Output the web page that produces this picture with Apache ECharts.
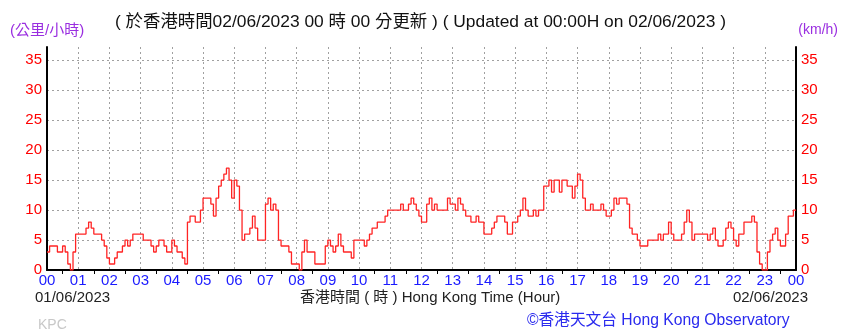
<!DOCTYPE html>
<html>
<head>
<meta charset="utf-8">
<script src="https://cdn.jsdelivr.net/npm/echarts@6/dist/echarts.min.js"></script>
<style>html,body{margin:0;padding:0;background:#fff}#c{width:850px;height:335px}</style>
</head>
<body>
<div id="c"></div>
<script>
// hour tick labels
var hourLabels = ['00','01','02','03','04','05','06','07','08','09','10','11','12','13','14','15','16','17','18','19','20','21','22','23','00'];
var yTicks = [0,5,10,15,20,25,30,35];
// 10-minute mean wind speed (km/h), one value every 5 minutes from 00:00 to 24:00
var windSpeed = [
  3,4,4,4,3,3,4,3,1,0,3,6,        // 00
  6,6,6,7,8,7,6,6,6,5,4,2,        // 01
  1,1,2,3,3,4,5,4,5,6,6,6,        // 02
  6,5,5,5,4,3,4,5,5,4,3,3,        // 03
  5,4,3,3,2,1,8,9,9,8,8,10,       // 04
  12,12,12,11,9,12,14,15,16,17,15,12, // 05
  15,14,10,5,6,6,7,9,7,5,5,5,     // 06
  11,12,10,11,10,5,4,4,4,3,1,1,   // 07
  1,0,3,5,3,3,3,1,1,1,1,4,        // 08
  5,4,3,4,6,4,3,3,3,2,5,5,        // 09
  5,5,4,5,6,7,7,8,8,8,9,10,       // 10
  10,10,10,10,11,10,10,11,12,11,10,9, // 11
  8,8,11,12,10,11,10,10,10,10,12,11,  // 12
  11,10,12,11,10,9,9,8,8,9,8,8,   // 13
  6,6,6,7,8,9,9,9,8,6,6,8,        // 14
  8,9,10,12,10,9,9,10,9,10,10,14, // 15
  14,15,13,15,15,13,15,15,14,14,12,14, // 16
  16,15,12,10,10,11,10,10,10,11,10,9,  // 17
  9,10,12,11,12,12,12,11,7,6,6,5, // 18
  4,4,4,5,5,5,5,6,5,6,6,8,        // 19
  6,5,5,5,6,8,10,8,5,6,6,6,       // 20
  6,6,5,6,7,5,4,4,5,7,8,7,        // 21
  5,4,6,6,8,8,8,9,8,3,1,0,        // 22
  0,3,5,6,7,5,4,4,6,9,9,10,       // 23
  10                              // 24
];
var stepsPerHour = 12;

var seriesData = windSpeed.map(function (v, i) { return [i / stepsPerHour, v]; });

var fontLatin = 'Liberation Sans, Noto Sans CJK TC, sans-serif';
var chart = echarts.init(document.getElementById('c'), null, {renderer: 'canvas'});

function yAxisDef(pos) {
  return {
    type: 'value', position: pos, min: 0, max: 37.2, interval: 5,
    axisLine: {show: true, lineStyle: {color: '#000', width: 2}},
    axisTick: {show: false},
    axisLabel: {
      color: '#ff0000', fontSize: 15, fontFamily: fontLatin, margin: 5,
      showMaxLabel: false,
      formatter: function (v) { return yTicks.indexOf(v) >= 0 ? String(v) : ''; }
    },
    splitLine: {show: pos === 'left', showMaxLine: false, lineStyle: {color: '#a0a0a0', type: [2, 3], width: 1}}
  };
}

chart.setOption({
  animation: false,
  backgroundColor: '#fff',
  grid: {left: 47, right: 54, top: 47, bottom: 65},
  xAxis: [{
    type: 'value', min: 0, max: 24, interval: 1,
    axisLine: {show: true, lineStyle: {color: '#000', width: 2}},
    axisTick: {show: false},
    minorTick: {show: true, splitNumber: 2, length: 4, lineStyle: {color: '#000'}},
    axisLabel: {
      color: '#1a1aff', fontSize: 15, fontFamily: fontLatin, margin: 3,
      formatter: function (v) { return hourLabels[Math.round(v)]; }
    },
    splitLine: {show: true, lineStyle: {color: '#a0a0a0', type: [2, 3], width: 1}}
  }],
  yAxis: [yAxisDef('left'), yAxisDef('right')],
  series: [{
    type: 'line', step: 'end', data: seriesData, yAxisIndex: 0,
    showSymbol: false, symbol: 'none',
    lineStyle: {color: '#ff2424', width: 1.3}
  }],
  graphic: [
    {type: 'text', left: 10, top: 23, style: {text: '(公里/小時)', fill: '#9a2ee0', font: '15px ' + fontLatin}},
    {type: 'text', left: 115, top: 14, style: {text: '( 於香港時間02/06/2023 00 時 00 分更新 ) ( Updated at 00:00H on 02/06/2023 )', fill: '#111', font: '17.4px ' + fontLatin}},
    {type: 'text', right: 12, top: 23, style: {text: '(km/h)', fill: '#9a2ee0', font: '14px ' + fontLatin}},
    {type: 'text', left: 35, top: 290, style: {text: '01/06/2023', fill: '#222', font: '15px ' + fontLatin}},
    {type: 'text', left: 300, top: 290, style: {text: '香港時間 ( 時 ) Hong Kong Time (Hour)', fill: '#222', font: '15px ' + fontLatin}},
    {type: 'text', right: 42, top: 290, style: {text: '02/06/2023', fill: '#222', font: '15px ' + fontLatin}},
    {type: 'text', left: 38, top: 318, style: {text: 'KPC', fill: '#c8c8c8', font: '14px ' + fontLatin}},
    {type: 'text', left: 527, top: 313, style: {text: '©香港天文台 Hong Kong Observatory', fill: '#2a2aee', font: '15.7px ' + fontLatin}}
  ]
});
</script>
</body>
</html>
